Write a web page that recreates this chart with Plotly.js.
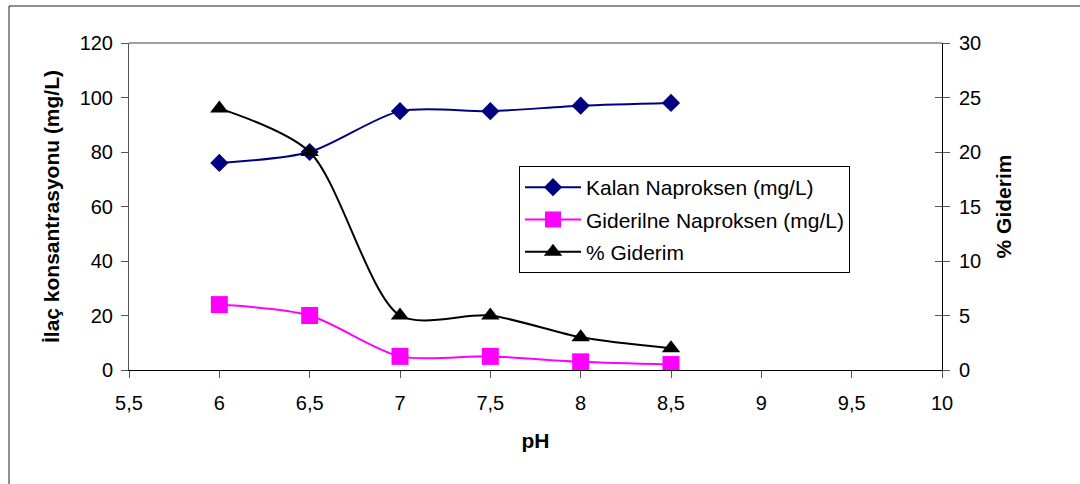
<!DOCTYPE html>
<html>
<head>
<meta charset="utf-8">
<script src="https://cdn.plot.ly/plotly-3.0.1.min.js"></script>
<style>
  html, body { margin: 0; padding: 0; background: #fff; }
  #chart { width: 1080px; height: 484px; }
</style>
</head>
<body>
<div id="chart"></div>
<script>
const pH = [6, 6.5, 7, 7.5, 8, 8.5];
const kalan = [76, 80, 95, 95, 97, 98];
const giderilen = [24, 20, 5, 5, 3, 2];
const yuzdeGiderim = [24, 20, 5, 5, 3, 2];
const xTicks = [5.5, 6, 6.5, 7, 7.5, 8, 8.5, 9, 9.5, 10];
const leftTicks = [0, 20, 40, 60, 80, 100, 120];
const rightTicks = [0, 5, 10, 15, 20, 25, 30];

const FONT = 'Liberation Sans, Arial, sans-serif';

const traces = [
  {
    x: pH, y: kalan, name: 'Kalan Naproksen (mg/L)', type: 'scatter', mode: 'lines+markers',
    line: {color: '#000080', width: 2, shape: 'spline', smoothing: 0.8},
    marker: {symbol: 'diamond', size: 14, color: '#000080'},
    xaxis: 'x', yaxis: 'y', legendgroup: 'a'
  },
  {
    x: pH, y: giderilen, name: 'Giderilne Naproksen (mg/L)', type: 'scatter', mode: 'lines+markers',
    line: {color: '#FF00FF', width: 2, shape: 'spline', smoothing: 0.8},
    marker: {symbol: 'square', size: 17, color: '#FF00FF'},
    xaxis: 'x', yaxis: 'y', legendgroup: 'b'
  },
  {
    x: pH, y: yuzdeGiderim, name: '% Giderim', type: 'scatter', mode: 'lines+markers',
    line: {color: '#000000', width: 2, shape: 'spline', smoothing: 0.8},
    marker: {symbol: 'triangle-up', size: 16, color: '#000000'},
    xaxis: 'x', yaxis: 'y2', legendgroup: 'c'
  }
];

const L = 129, R = 942, T = 43, B = 370;
const W = R - L, H = B - T;
const px = v => (v - L) / W;
const py = v => (B - v) / H;

const layout = {
  width: 1080, height: 484,
  margin: {l: L, r: 1080 - R, t: T, b: 484 - B},
  paper_bgcolor: '#ffffff', plot_bgcolor: '#ffffff',
  separators: ',.',
  font: {family: FONT, size: 20, color: '#000'},
  showlegend: true,
  legend: {
    x: px(519), y: py(166), xanchor: 'left', yanchor: 'top',
    bgcolor: '#ffffff', bordercolor: '#000', borderwidth: 1,
    font: {family: FONT, size: 21, color: '#000'},
    traceorder: 'grouped', tracegroupgap: 2, itemwidth: 56
  },
  xaxis: {
    range: [5.5, 10], tickvals: xTicks, ticktext: xTicks.map(v => String(v).replace('.', ',')),
    showgrid: false, zeroline: false, showline: true, linecolor: '#000', linewidth: 1,
    ticks: 'outside', ticklen: 7, tickcolor: '#555', tickwidth: 1, ticklabelstandoff: 8,
    tickfont: {family: FONT, size: 20},
    title: {text: '<b>pH</b>', font: {family: FONT, size: 21}, standoff: 20}
  },
  yaxis: {
    range: [0, 120], tickvals: leftTicks,
    showgrid: false, zeroline: false, showline: true, linecolor: '#555', linewidth: 1,
    ticks: 'outside', ticklen: 7, tickcolor: '#555', tickwidth: 1, ticklabelstandoff: 4,
    tickfont: {family: FONT, size: 20},
    title: {text: '<b>İlaç konsantrasyonu (mg/L)</b>', font: {family: FONT, size: 21}, standoff: 14}
  },
  yaxis2: {
    range: [0, 30], tickvals: rightTicks, overlaying: 'y', side: 'right',
    showgrid: false, zeroline: false, showline: true, linecolor: '#000', linewidth: 1,
    ticks: 'outside', ticklen: 7, tickcolor: '#555', tickwidth: 1, ticklabelstandoff: 5,
    tickfont: {family: FONT, size: 20},
    title: {text: '<b>% Giderim</b>', font: {family: FONT, size: 21}, standoff: 16}
  },
  yaxis3: {
    range: [0, 30], tickvals: rightTicks, overlaying: 'y', side: 'right',
    showgrid: false, zeroline: false, showline: false,
    ticks: 'inside', ticklen: 7, tickcolor: '#555', tickwidth: 1,
    showticklabels: false
  },
  shapes: [
    {type: 'line', xref: 'paper', yref: 'paper', x0: 0, x1: 1, y0: 1, y1: 1,
     line: {color: '#808080', width: 1.5}},
    {type: 'rect', xref: 'paper', yref: 'paper', x0: px(9), x1: px(1090), y0: py(6), y1: py(495),
     line: {color: '#222', width: 1}, fillcolor: 'rgba(0,0,0,0)', layer: 'below'}
  ]
};

const dummy = {x: [5.5], y: [0], xaxis: 'x', yaxis: 'y3', type: 'scatter', mode: 'none',
  showlegend: false, hoverinfo: 'skip'};

Plotly.newPlot('chart', traces.concat([dummy]), layout, {displayModeBar: false, staticPlot: true});
</script>
</body>
</html>
